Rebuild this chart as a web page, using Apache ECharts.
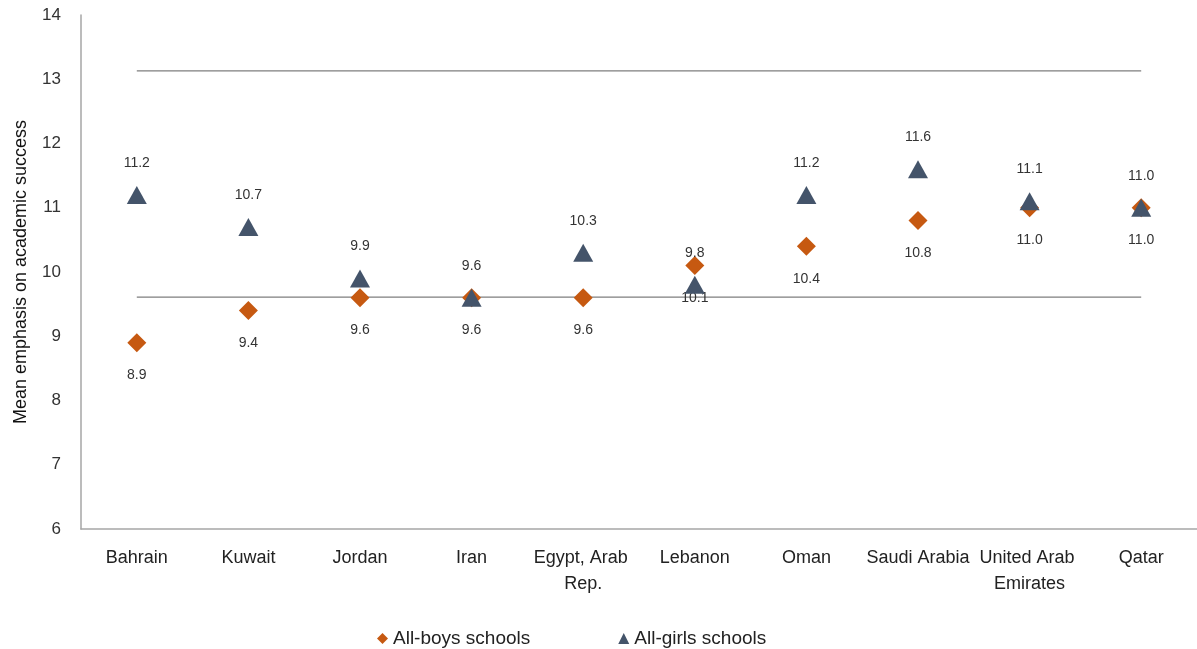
<!DOCTYPE html>
<html><head><meta charset="utf-8">
<script src="https://cdn.jsdelivr.net/npm/echarts@6/dist/echarts.min.js"></script>
<style>html,body{margin:0;padding:0;background:#fff}#c{width:1197px;height:649px}</style>
</head><body><div id="c"></div>
<script>
const categories = ['Bahrain','Kuwait','Jordan','Iran','Egypt, Arab Rep.','Lebanon','Oman','Saudi Arabia','United Arab Emirates','Qatar'];
const boys = [8.9, 9.4, 9.6, 9.6, 9.6, 10.1, 10.4, 10.8, 11.0, 11.0];
const girls = [11.2, 10.7, 9.9, 9.6, 10.3, 9.8, 11.2, 11.6, 11.1, 11.0];
const upperRef = [13.13, 13.13, 13.13, 13.13, 13.13, 13.13, 13.13, 13.13, 13.13, 13.13];
const lowerRef = [9.61, 9.61, 9.61, 9.61, 9.61, 9.61, 9.61, 9.61, 9.61, 9.61];
const yTicks = [6, 7, 8, 9, 10, 11, 12, 13, 14];

const font = 'Liberation Sans';
const chart = echarts.init(document.getElementById('c'), null, {renderer: 'canvas'});
chart.setOption({
  animation: false,
  textStyle: {fontFamily: font},
  grid: {left: 81, right: 0, top: 15, bottom: 120, containLabel: false, outerBoundsMode: 'none'},
  legend: {
    top: 624, left: 372, itemGap: 88, itemWidth: 11, itemHeight: 11,
    data: [{name: 'All-boys schools', icon: 'diamond'}, {name: 'All-girls schools', icon: 'triangle'}],
    textStyle: {fontFamily: font, fontSize: 19, color: '#222'}
  },
  xAxis: {
    type: 'category', data: categories, boundaryGap: true,
    axisLine: {lineStyle: {color: '#a6a6a6', width: 1.5}},
    axisTick: {show: false},
    axisLabel: {interval: 0, margin: 16, fontSize: 18, color: '#222', width: 112, overflow: 'break', lineHeight: 26, fontFamily: font}
  },
  yAxis: {
    type: 'value', min: yTicks[0], max: yTicks[yTicks.length - 1], interval: 1,
    name: 'Mean emphasis on academic success', nameLocation: 'middle', nameGap: 51, nameRotate: 90,
    nameTextStyle: {fontSize: 18, color: '#111', fontFamily: font},
    axisLine: {show: true, lineStyle: {color: '#a6a6a6', width: 1.5}},
    axisTick: {show: false},
    splitLine: {show: false},
    axisLabel: {fontSize: 17, color: '#333', margin: 20, fontFamily: font}
  },
  series: [
    {name: 'upper', type: 'line', data: upperRef, symbol: 'none', silent: true,
     lineStyle: {color: '#7f7f7f', width: 1.3}, z: 1},
    {name: 'lower', type: 'line', data: lowerRef, symbol: 'none', silent: true,
     lineStyle: {color: '#7f7f7f', width: 1.3}, z: 1},
    {name: 'All-boys schools', type: 'scatter', data: boys, symbol: 'diamond', symbolSize: [19, 19],
     itemStyle: {color: '#C65911', opacity: 1}, z: 3,
     label: {show: true, position: 'bottom', distance: 16, fontSize: 14, color: '#333', fontFamily: font,
       formatter: p => p.value.toFixed(1)}},
    {name: 'All-girls schools', type: 'scatter', data: girls, symbol: 'triangle', symbolSize: [20, 18],
     itemStyle: {color: '#44546A', opacity: 1}, z: 4,
     label: {show: true, position: 'top', distance: 16, fontSize: 14, color: '#333', fontFamily: font,
       formatter: p => p.value.toFixed(1)}}
  ]
});
</script></body></html>
